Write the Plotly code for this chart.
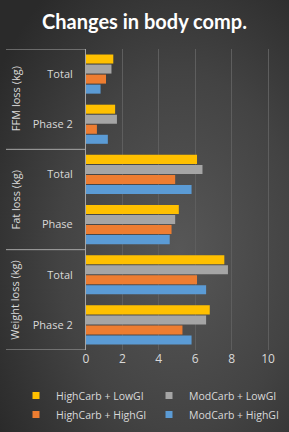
import base64
import plotly.graph_objects as go

groups = ["Weight loss (kg)", "Weight loss (kg)", "Fat loss (kg)", "Fat loss (kg)", "FFM loss (kg)", "FFM loss (kg)"]
phases = ["Phase 2", "Total", "Phase", "Total", "Phase 2", "Total"]

series_names = ["HighCarb + LowGI", "ModCarb + LowGI", "HighCarb + HighGI", "ModCarb + HighGI"]
high_low = [6.8, 7.6, 5.1, 6.1, 1.6, 1.5]
mod_low = [6.6, 7.8, 4.9, 6.4, 1.7, 1.4]
high_high = [5.3, 6.1, 4.7, 4.9, 0.6, 1.1]
mod_high = [5.8, 6.6, 4.6, 5.8, 1.2, 0.8]
series_values = [high_low, mod_low, high_high, mod_high]
colors = ["#FFC000", "#A5A5A5", "#ED7D31", "#5B9BD5"]

x_ticks = [0, 2, 4, 6, 8, 10]

pos = list(range(len(phases)))

fig = go.Figure()
# add in reverse so that the first series is drawn on top within each category
for name, vals, col in reversed(list(zip(series_names, series_values, colors))):
    fig.add_trace(go.Bar(
        x=vals, y=pos, name=name, orientation="h", showlegend=False, legendgroup=name,
        marker=dict(color=col, line=dict(width=0)),
    ))
# legend entries with small square swatches
for name, col in zip(series_names, colors):
    fig.add_trace(go.Scatter(
        x=[None], y=[None], mode="markers", name=name, legendgroup=name,
        marker=dict(symbol="square", size=7, color=col),
    ))

W, H = 289, 432
L, R, T, B = 86, 0, 49, 82
pw, ph = W - L - R, H - T - B

svg = f'''<svg xmlns="http://www.w3.org/2000/svg" width="{W}" height="{H}">
<defs><radialGradient id="g" cx="0.62" cy="0.58" r="0.75">
<stop offset="0" stop-color="#575757"/><stop offset="0.55" stop-color="#434343"/><stop offset="1" stop-color="#2a2a2a"/>
</radialGradient></defs><rect width="{W}" height="{H}" fill="url(#g)"/></svg>'''
src = "data:image/svg+xml;base64," + base64.b64encode(svg.encode()).decode()

line_col = "#A6A6A6"
txt_col = "#D9D9D9"
font_fam = "Open Sans"

shapes = []
x_left = -(L - 6) / pw
bounds = [-0.5] + [i + 0.5 for i in range(len(groups) - 1) if groups[i] != groups[i + 1]] + [len(groups) - 0.5]
for b in bounds:
    shapes.append(dict(type="line", xref="paper", yref="y", x0=x_left, x1=0, y0=b, y1=b,
                       line=dict(color=line_col, width=1)))

annotations = []
seen = []
for g in groups:
    if g not in seen:
        seen.append(g)
for g in seen:
    idx = [i for i, gg in enumerate(groups) if gg == g]
    annotations.append(dict(text=g, xref="paper", yref="y", x=-(L - 15) / pw, y=sum(idx) / len(idx),
                            xanchor="center", yanchor="middle", textangle=-90, showarrow=False,
                            font=dict(color=txt_col, size=11, family=font_fam)))

fig.update_layout(
    width=W, height=H,
    margin=dict(l=L, r=R, t=T, b=B, autoexpand=False),
    paper_bgcolor="#333333", plot_bgcolor="rgba(0,0,0,0)",
    images=[dict(source=src, xref="paper", yref="paper", x=-L / pw, y=1 + T / ph,
                 sizex=W / pw, sizey=H / ph, sizing="stretch", xanchor="left", yanchor="top",
                 layer="below")],
    title=dict(text="<b>Changes in body comp.</b>", x=0.5, xref="container", y=1 - 22 / H,
               yref="container", xanchor="center", yanchor="middle",
               font=dict(color="white", size=20, family="Lato")),
    barmode="group", bargap=0.2, bargroupgap=0.1,
    xaxis=dict(range=[0, (W - L - R) / 18.2], tickvals=x_ticks, ticktext=[str(v) for v in x_ticks],
               showgrid=True, gridcolor="#5E5E5E", gridwidth=1, zeroline=False, showline=False,
               tickfont=dict(color=txt_col, size=12, family=font_fam), fixedrange=True,
               automargin=False),
    yaxis=dict(range=[-0.5, len(pos) - 0.5], tickvals=pos, ticktext=phases, showgrid=False,
               zeroline=False, showline=True, linecolor=line_col, linewidth=1,
               ticks="outside", ticklen=10, tickcolor="rgba(0,0,0,0)", automargin=False,
               tickfont=dict(color=txt_col, size=11, family=font_fam)),
    shapes=shapes, annotations=annotations,
    legend=dict(orientation="h", x=(16 - L) / pw, xref="paper", xanchor="left",
                y=-(381 - (H - B)) / ph, yref="paper",
                yanchor="top", traceorder="normal", itemwidth=30,
                font=dict(color=txt_col, size=10.5, family=font_fam), bgcolor="rgba(0,0,0,0)",
                entrywidth=88),
    showlegend=True,
)

fig.write_html("out.html")
